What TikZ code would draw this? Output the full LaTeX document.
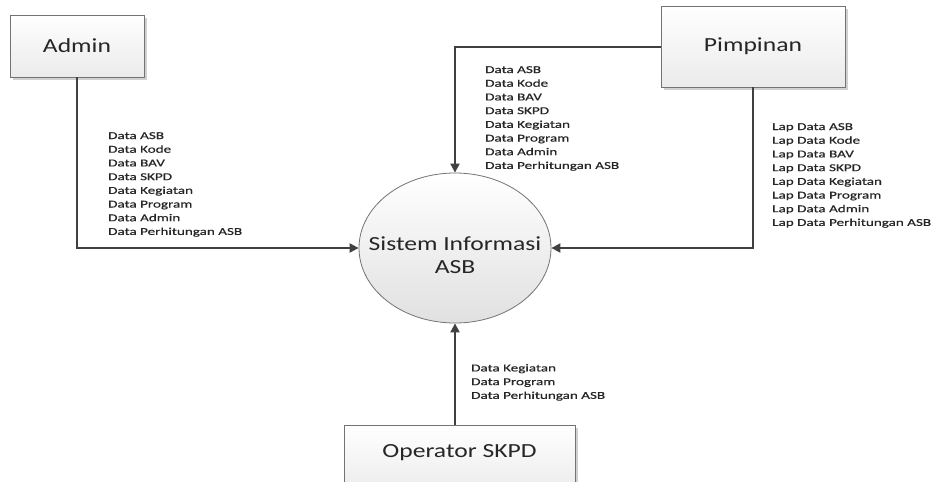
\documentclass[tikz,border=0pt]{standalone}
\usepackage{fontspec}
\setmainfont[FakeStretch=1.28]{Carlito}
\newfontfamily\lblfont[FakeStretch=1.44, FakeBold=0.6]{Carlito}
\usetikzlibrary{arrows.meta,shadows,shapes.geometric}
\begin{document}
\begin{tikzpicture}[x=1pt,y=-1pt,
  entity/.style={draw=black!55, line width=0.9pt, top color=white, bottom color=black!8,
    drop shadow={shadow xshift=2.5pt, shadow yshift=-2.5pt, fill=black!18, opacity=1},
    font=\fontsize{20}{22}\selectfont, text=black!85, inner sep=0pt},
  flow/.style={draw=black!75, line width=2pt, -{Triangle[length=9pt,width=9pt]}},
  lbl/.style={font=\lblfont\fontsize{10.5}{13.7}\selectfont, text=black!85, align=left, anchor=north west, inner sep=0pt}
]
\useasboundingbox (0,0) rectangle (935,482);
\node[entity, minimum width=134pt, minimum height=62pt] (admin) at (77,46) {Admin};
\node[entity, minimum width=184pt, minimum height=81pt] (pimp) at (753,46.5) {Pimpinan};
\node[entity, minimum width=231pt, minimum height=70pt] (op) at (459.5,460) {};
\node[font=\fontsize{20}{22}\selectfont, text=black!85] (optext) at (459.5,453) {Operator SKPD};
\node[draw=black!55, line width=0.8pt, ellipse, minimum width=192pt, minimum height=150pt,
  top color=white, bottom color=black!12, inner sep=0pt] (sys) at (455,248) {};
\node[font=\fontsize{20}{23}\selectfont, text=black!85, align=center] (systext) at (455,255) {Sistem Informasi\\ASB};

\coordinate (c1) at (admin.south |- sys.west);
\draw[flow] (admin.south) -- (c1) -- (sys.west);
\coordinate (c2) at (sys.north |- pimp.west);
\draw[flow] (pimp.west) -- (c2) -- (sys.north);
\coordinate (c3) at (pimp.south |- sys.east);
\draw[flow] (pimp.south) -- (c3) -- (sys.east);
\draw[flow] (op.north -| sys.south) -- (sys.south);

\node[lbl] (l1) at (108,132) {Data ASB\\Data Kode\\Data BAV\\Data SKPD\\Data Kegiatan\\Data Program\\Data Admin\\Data Perhitungan ASB};
\node[lbl] (l2) at (485,66) {Data ASB\\Data Kode\\Data BAV\\Data SKPD\\Data Kegiatan\\Data Program\\Data Admin\\Data Perhitungan ASB};
\node[lbl] (l3) at (772,123) {Lap Data ASB\\Lap Data Kode\\Lap Data BAV\\Lap Data SKPD\\Lap Data Kegiatan\\Lap Data Program\\Lap Data Admin\\Lap Data Perhitungan ASB};
\node[lbl] (l4) at (471,364) {Data Kegiatan\\Data Program\\Data Perhitungan ASB};
\end{tikzpicture}
\end{document}
